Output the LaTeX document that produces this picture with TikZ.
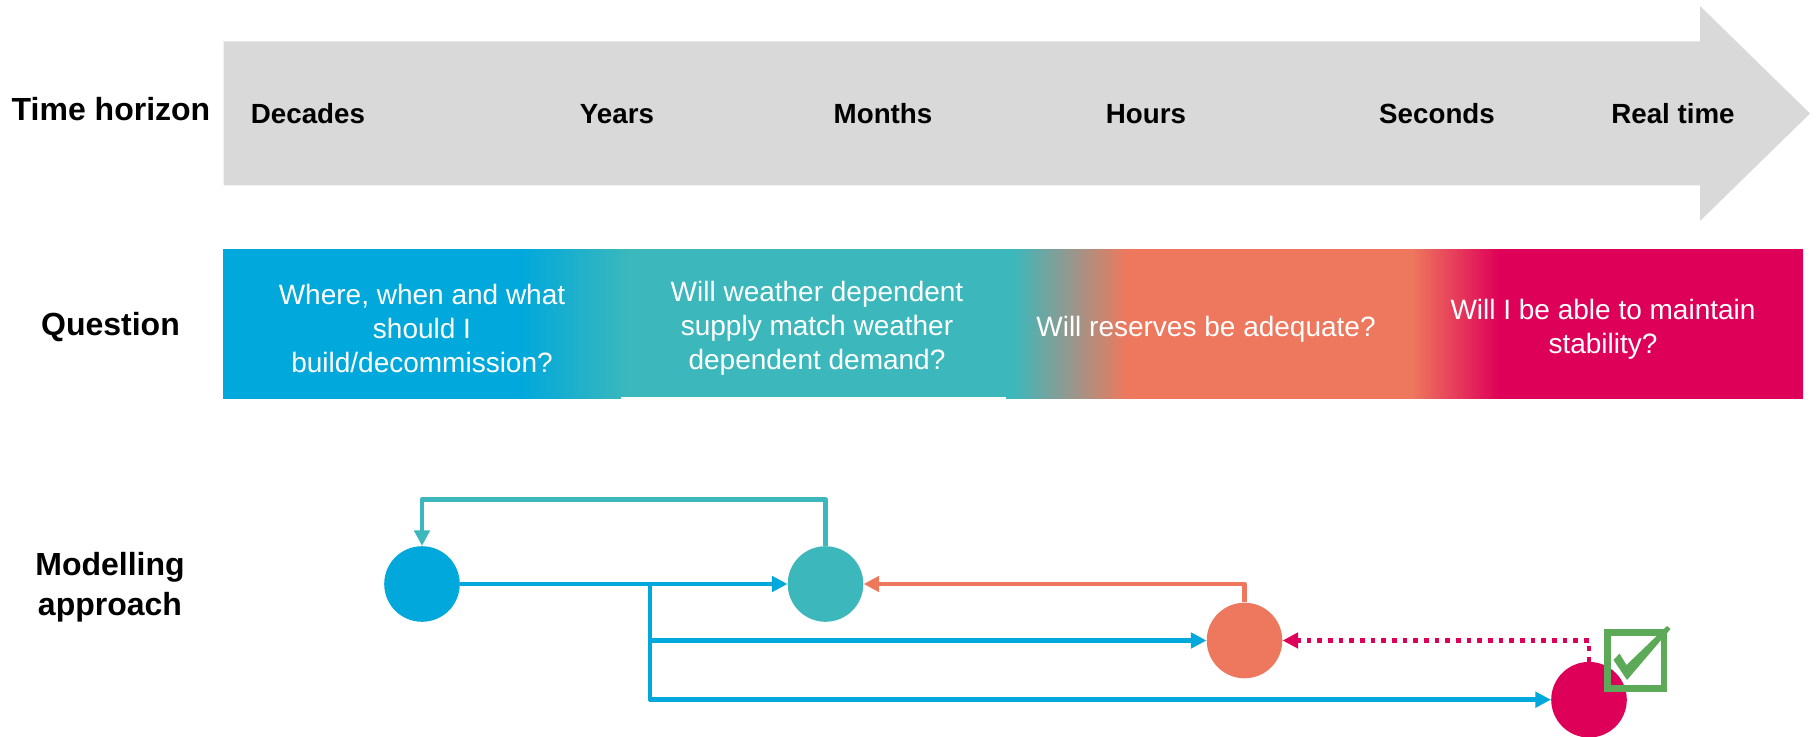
\documentclass[tikz,border=0pt]{standalone}
\usepackage{fontspec}
\setmainfont{Liberation Sans}
\usetikzlibrary{arrows.meta}

\definecolor{horizongrey}{RGB}{217,217,217}
\definecolor{qblue}{RGB}{0,168,220}
\definecolor{qteal}{RGB}{60,184,188}
\definecolor{qorange}{RGB}{238,120,93}
\definecolor{qpink}{RGB}{222,0,88}
\definecolor{tickgreen}{RGB}{92,170,87}

% bar colours, the central 50bp map onto the bar
\pgfdeclarehorizontalshading{questionbar}{100bp}{color(0bp)=(qblue);
  color(25bp)=(qblue); color(34.4bp)=(qblue); color(37.9bp)=(qteal);
  color(50bp)=(qteal); color(53.6bp)=(qorange); color(62.6bp)=(qorange);
  color(65.4bp)=(qpink); color(75bp)=(qpink); color(100bp)=(qpink)}

\tikzset{
  rowlabel/.style={font=\fontsize{24}{30}\selectfont\bfseries, align=center},
  timelabel/.style={font=\fontsize{20.8}{25}\selectfont\bfseries, anchor=base},
  question/.style={font=\fontsize{21}{25.5}\selectfont, text=white, align=center},
  approach/.style={circle, minimum size=56.7pt, inner sep=0pt},
  link/.style={line width=3.4pt, line join=round,
    -{Triangle[length=11.6pt,width=11.4pt]}},
}

\begin{document}
\begin{tikzpicture}[x=0.75pt,y=-0.75pt]
\useasboundingbox (0,0) rectangle (1816,737);

% time horizon arrow
\fill[horizongrey] (223.5,41.5)--(1700,41.5)--(1700,6)--(1810,113.5)
  --(1700,221)--(1700,185.5)--(223.5,185.5)--cycle;
\node[rowlabel, anchor=base] (thlabel) at (111,121) {Time horizon};
\node[timelabel] (decades) at (308,124) {Decades};
\node[timelabel] (years) at (617,124) {Years};
\node[timelabel] (months) at (883,124) {Months};
\node[timelabel] (hours) at (1146,124) {Hours};
\node[timelabel] (seconds) at (1437,124) {Seconds};
\node[timelabel] (realtime) at (1673,124) {Real time};

% question bar
\shade[shading=questionbar] (223,250) rectangle (1803,398.5);
\fill[white] (621,397.3) rectangle (1006,399.5);
\node[rowlabel, anchor=base] (qlabel) at (110.5,336) {Question};
\node[question] (qbuild) at (422,328) {Where, when and what\\should I\\build/decommission?};
\node[question] (qweather) at (817,328) {Will weather dependent\\supply match weather\\dependent demand?};
\node[question] (qreserve) at (1206,329) {Will reserves be adequate?};
\node[question] (qstable) at (1603,329) {Will I be able to maintain\\stability?};

% modelling approach
\node[rowlabel] (malabel) at (110,587) {Modelling\\approach};
\node[approach, fill=qblue] (plan) at (422,584) {};
\node[approach, fill=qteal] (weather) at (825.5,584) {};
\node[approach, fill=qorange] (reserve) at (1244.5,640.5) {};
\node[approach, fill=qpink] (stable) at (1589,699.7) {};
\coordinate (loop) at (0,499.3);
\coordinate (split) at (650,584);

\draw[link, qteal] (weather.north) -- (weather.north |- loop) -| (plan.north);
\draw[link, qblue] (plan.east) -- (weather.west);
\draw[link, qblue] (split) |- (reserve.west);
\draw[link, qblue] (split) |- (stable.west);
\draw[link, qorange] (reserve.north) |- (weather.east);
\draw[link, qpink, line width=3.5pt, dash pattern=on 3.5pt off 4.5pt,
  line cap=butt] (stable.north) |- (reserve.east);

% check box
\draw[tickgreen, line width=5pt] (1607.3,632.7) rectangle (1664,688.3);
\fill[tickgreen] (1613.5,660)--(1619.5,653.5)--(1626.5,665)--(1667,626)
  --(1670.5,629)--(1627,680)--cycle;
\end{tikzpicture}
\end{document}
